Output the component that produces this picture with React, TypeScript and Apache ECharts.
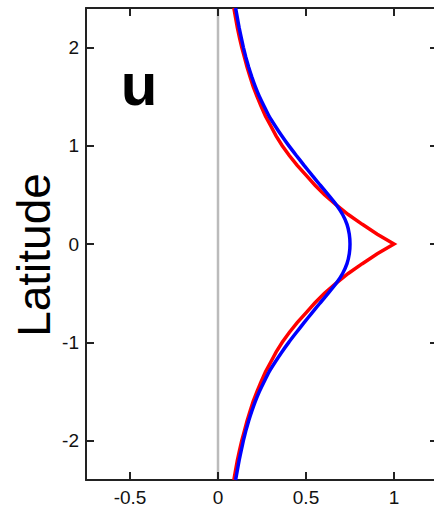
import { useEffect, useRef } from 'react';
import * as echarts from 'echarts';

// latitude samples (symmetric about the equator)
const latitudes = [0, 0.1, 0.2, 0.3, 0.4, 0.5, 0.6, 0.7, 0.8, 0.9, 1.0, 1.1, 1.2, 1.3, 1.4, 1.5, 1.6, 1.7, 1.8, 1.9, 2.0, 2.1, 2.2, 2.3, 2.4];
// red profile (sharp cusp at the equator)
const redU = [1.0, 0.905, 0.82, 0.74, 0.67, 0.605, 0.55, 0.5, 0.45, 0.405, 0.365, 0.33, 0.3, 0.27, 0.245, 0.222, 0.2, 0.182, 0.165, 0.15, 0.135, 0.122, 0.11, 0.1, 0.09];
// blue profile (smooth)
const blueU = [0.75, 0.746, 0.733, 0.708, 0.672, 0.627, 0.58, 0.534, 0.489, 0.445, 0.402, 0.362, 0.325, 0.29, 0.262, 0.235, 0.212, 0.192, 0.174, 0.158, 0.144, 0.132, 0.12, 0.11, 0.1];

const xTicks = [-0.5, 0, 0.5, 1];
const yTicks = [-2, -1, 0, 1, 2];

// mirror a half profile into [u, lat] pairs from south to north
function profile(values: number[]): [number, number][] {
  const out: [number, number][] = [];
  for (let i = latitudes.length - 1; i > 0; i--) out.push([values[i], -latitudes[i]]);
  for (let i = 0; i < latitudes.length; i++) out.push([values[i], latitudes[i]]);
  return out;
}

const FONT = 'Liberation Sans, Arial, Helvetica, sans-serif';
const axisLine = { onZero: false, lineStyle: { color: '#222', width: 2 } };
const axisTick = { inside: true, length: 8, lineStyle: { color: '#222', width: 2 } };

export default function App() {
  const chartRef = useRef<HTMLDivElement>(null);

  useEffect(() => {
    if (!chartRef.current) return;
    const chart = echarts.init(chartRef.current, undefined, { renderer: 'svg' });

    chart.setOption({
      animation: false,
      backgroundColor: '#fff',
      grid: { left: 86, top: 8, width: 352, height: 472, outerBoundsMode: 'none' },
      xAxis: [
        {
          type: 'value', position: 'bottom', min: -0.75, max: 1.25,
          axisLine, axisTick: { ...axisTick, customValues: xTicks },
          axisLabel: {
            customValues: xTicks, color: '#111', fontSize: 19, lineHeight: 16,
            fontFamily: FONT, margin: 9,
          },
          splitLine: { show: false },
        },
        {
          type: 'value', position: 'top', min: -0.75, max: 1.25,
          axisLine, axisTick: { ...axisTick, customValues: xTicks },
          axisLabel: { show: false }, splitLine: { show: false },
        },
      ],
      yAxis: [
        {
          type: 'value', position: 'left', min: -2.4, max: 2.4,
          axisLine, axisTick: { ...axisTick, customValues: yTicks },
          axisLabel: { customValues: yTicks, color: '#111', fontSize: 19, fontFamily: FONT, margin: 7 },
          splitLine: { show: false },
        },
        {
          type: 'value', position: 'right', min: -2.4, max: 2.4,
          axisLine, axisTick: { ...axisTick, customValues: yTicks },
          axisLabel: { show: false }, splitLine: { show: false },
        },
      ],
      graphic: [
        {
          type: 'text', x: 139, y: 84,
          style: { text: 'u', font: `bold 60px ${FONT}`, fill: '#000', align: 'center', verticalAlign: 'middle' },
        },
        {
          type: 'text', x: 34, y: 255, rotation: Math.PI / 2,
          style: { text: 'Latitude', font: `46px ${FONT}`, fill: '#000', align: 'center', verticalAlign: 'middle' },
        },
      ],
      series: [
        {
          type: 'line', data: [[0, -2.4], [0, 2.4]], showSymbol: false, silent: true, z: -1,
          lineStyle: { color: '#bbb', width: 2.5 },
        },
        {
          type: 'line', data: profile(redU), showSymbol: false,
          lineStyle: { color: '#ff0000', width: 3.5, join: 'miter' },
        },
        {
          type: 'line', data: profile(blueU), showSymbol: false, smooth: 0.15,
          lineStyle: { color: '#0000ff', width: 3.5 },
        },
      ],
    });

    return () => chart.dispose();
  }, []);

  return (
    <div
      ref={chartRef}
      style={{ position: 'fixed', left: 0, top: 0, width: 434, height: 506 }}
    />
  );
}
